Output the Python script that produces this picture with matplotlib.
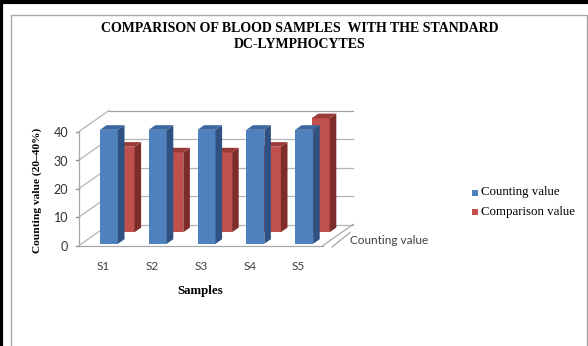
import matplotlib
matplotlib.use("Agg")
import matplotlib.pyplot as plt
from matplotlib.patches import Polygon, Rectangle
from matplotlib.lines import Line2D

samples = ["S1", "S2", "S3", "S4", "S5"]
counting = [40, 40, 40, 40, 40]
comparison = [30, 28, 28, 30, 40]
series_names = ["Counting value", "Comparison value"]
yticks = [0, 10, 20, 30, 40]

W, H = 588, 346
SERIF = "Liberation Serif"
SANS = "Lato"

fig = plt.figure(figsize=(W / 100, H / 100), dpi=100)
ax = fig.add_axes([79 / W, 1 - 245.5 / H, 244 / W, 114 / H])
ax.set_xlim(-0.5, len(samples) - 0.5)
ax.set_ylim(0, 40)
ax.axis("off")

# data units per screen pixel, used for the fake 3d depth
p0 = ax.transData.transform((0, 0))
p1 = ax.transData.transform((1, 10))
ux = 1 / (p1[0] - p0[0])
uy = 10 / (p1[1] - p0[1])

depth = (30 * ux, 21 * uy)      # floor / wall depth
bar_d = (6.6 * ux, 4.6 * uy)    # thickness of one column
bar_w = 18 * ux
left_off = -5.9 * ux
rows = [(2.4 * ux, 1.7 * uy), (19 * ux, 13.3 * uy)]

xl, xr = -0.5, len(samples) - 0.5
grid_c = "#b4b4b4"

def line(xs, ys, c=grid_c, lw=0.9, z=1):
    ax.add_line(Line2D(xs, ys, color=c, lw=lw, zorder=z, clip_on=False))

# walls and floor
for t in yticks:
    line([xl + depth[0], xr + depth[0]], [t + depth[1], t + depth[1]],
         c="#a0a0a0" if t == yticks[-1] else grid_c)
    line([xl, xl + depth[0]], [t, t + depth[1]])
    line([xl - 3 * ux, xl], [t, t], c="#8c8c8c")
line([xl, xl], [0, yticks[-1]], c="#a8a8a8")
line([xl, xr], [0, 0], c="#a8a8a8")
line([xr, xr + depth[0]], [0, depth[1]], c="#a8a8a8")
line([xr + 9 * ux, xr + depth[0] - 3 * ux], [-1.5 * uy, depth[1] - 8 * uy], c="#a8a8a8")

def column(i, v, row, front, side, top, z):
    dx, dy = row
    l = i + left_off + dx
    r = l + bar_w
    b = dy
    t = b + v
    bx, by = bar_d
    ax.add_patch(Rectangle((l, b), bar_w, v, facecolor=front, edgecolor="none",
                           zorder=z, clip_on=False))
    ax.add_patch(Polygon([(r, b), (r + bx, b + by), (r + bx, t + by), (r, t)],
                         facecolor=side, edgecolor="none", zorder=z, clip_on=False))
    ax.add_patch(Polygon([(l, t), (r, t), (r + bx, t + by), (l + bx, t + by)],
                         facecolor=top, edgecolor="none", zorder=z, clip_on=False))

for i, v in enumerate(comparison):
    column(i, v, rows[1], "#c0504d", "#7d2c2a", "#9c3a37", 3)
for i, v in enumerate(counting):
    column(i, v, rows[0], "#4f81bd", "#2f5282", "#3b68a0", 4)

# tick labels
for i, s in enumerate(samples):
    ax.text(i, -21.5 * uy, s, ha="center", va="center", fontsize=8.5,
            family=SANS, color="#404040")
for t in yticks:
    ax.text(xl - 11 * ux, t - 1.5 * uy, str(t), ha="right", va="center",
            fontsize=9, family=SANS, color="#303030")
ax.text(xr + 27 * ux, 4.5 * uy, series_names[0], ha="left", va="center",
        fontsize=8.5, family=SANS, color="#404040")

# titles
fig.text(300 / W, 1 - 29 / H, "COMPARISON OF BLOOD SAMPLES  WITH THE STANDARD",
         ha="center", va="center", fontsize=10, family=SERIF, weight="bold")
fig.text(300 / W, 1 - 44 / H, "DC-LYMPHOCYTES", ha="center", va="center",
         fontsize=10, family=SERIF, weight="bold")
fig.text(200 / W, 1 - 291 / H, "Samples", ha="center", va="center",
         fontsize=9.3, family=SERIF, weight="bold")
fig.text(37.5 / W, 1 - 190 / H, "Counting value (20\u201340%)", ha="center",
         va="center", rotation=90, fontsize=8.2, family=SERIF, weight="bold")

# legend
for k, (name, c) in enumerate(zip(series_names, ["#4f81bd", "#c0504d"])):
    yc = 192.5 + 20 * k
    fig.add_artist(Rectangle((471.5 / W, 1 - (yc + 3) / H), 6 / W, 6 / H,
                             transform=fig.transFigure, facecolor=c, edgecolor="none"))
    fig.text(481 / W, 1 - yc / H, name, ha="left", va="center",
             fontsize=9.3, family=SERIF)

# chart frame
fig.add_artist(Rectangle((10.5 / W, -0.1), 576 / W, 1 - 15 / H + 0.1,
                         transform=fig.transFigure, facecolor="none",
                         edgecolor="#a6a6a6", lw=1))
fig.add_artist(Line2D([0, 1], [1 - 1.5 / H, 1 - 1.5 / H], transform=fig.transFigure,
                      color="black", lw=3))
fig.add_artist(Line2D([1.5 / W, 1.5 / W], [0, 1], transform=fig.transFigure,
                      color="black", lw=3))

fig.savefig("out.png", dpi=100)
